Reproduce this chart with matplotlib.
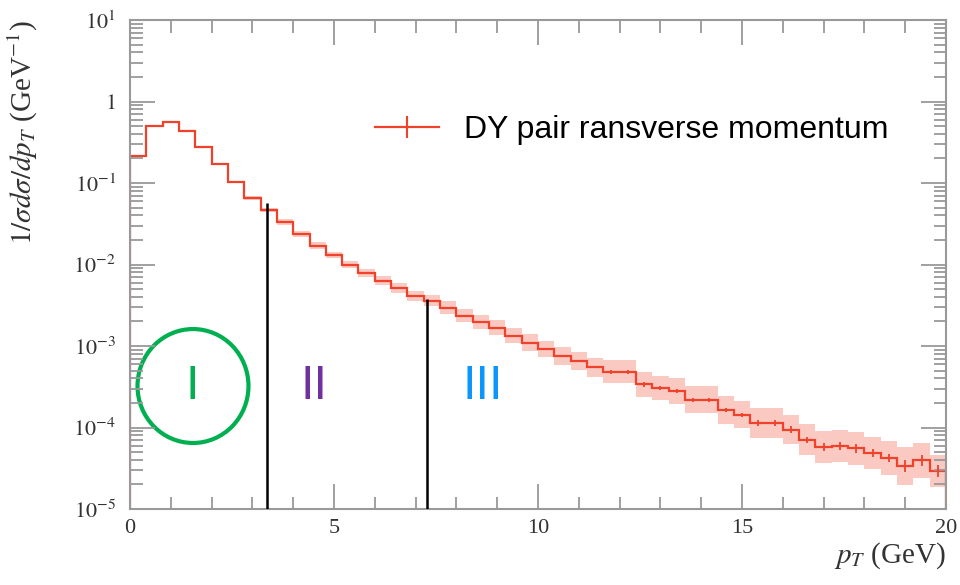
import numpy as np
import matplotlib
matplotlib.use('Agg')
from matplotlib import pyplot as plt
from matplotlib.patches import Ellipse
from matplotlib.lines import Line2D
from matplotlib.ticker import FixedLocator, FixedFormatter, LogLocator, MultipleLocator, NullFormatter

plt.rcParams['font.family'] = ['Liberation Serif', 'DejaVu Serif']
plt.rcParams['mathtext.fontset'] = 'stix'

# 50 bins of 0.4 GeV from 0 to 20 GeV
pt_edges = np.linspace(0, 20, 51)

# 1/sigma dsigma/dpT per bin
dist = [0.215, 0.507, 0.562, 0.436, 0.280, 0.169, 0.103, 0.0653, 0.0466, 0.0330,
        0.0237, 0.0170, 0.0130, 0.00995, 0.00794, 0.00628, 0.00513, 0.00411, 0.00360, 0.00296,
        0.00236, 0.00196, 0.00168, 0.00134, 0.00110, 0.00092, 0.00076, 0.00065, 0.000547, 0.000485,
        0.000485, 0.000337, 0.000303, 0.000279, 0.000220, 0.000220, 0.000163, 0.000144, 0.000114, 0.000114,
        9.45e-5, 7.03e-5, 5.77e-5, 5.90e-5, 5.53e-5, 4.89e-5, 4.26e-5, 3.36e-5, 3.94e-5, 2.91e-5]

# half width of the shaded band, in decades
band_dex = [0.01, 0.01, 0.01, 0.01, 0.01, 0.012, 0.015, 0.02, 0.03, 0.035,
            0.035, 0.04, 0.04, 0.045, 0.05, 0.055, 0.06, 0.065, 0.07, 0.075,
            0.08, 0.085, 0.09, 0.095, 0.10, 0.10, 0.11, 0.11, 0.12, 0.14,
            0.14, 0.15, 0.15, 0.16, 0.17, 0.17, 0.17, 0.17, 0.18, 0.18,
            0.18, 0.19, 0.20, 0.20, 0.20, 0.20, 0.21, 0.23, 0.22, 0.20]

# half length of the stat error bars, in decades
stat_dex = [0.005] * 20 + [0.01] * 9 + [0.025] * 9 + [0.04] * 4 + [0.05] * 5 + [0.07] * 3

# region boundaries and labels
cut_pt = [3.35, 7.27]
cut_top = [0.057, 0.0038]
region_names = ['I', 'II', 'III']
region_x = [1.52, 4.5, 8.65]
region_colors = ['#00B050', '#7030A0', '#0A96FA']

red = '#F0412A'
y = np.array(dist)
lo = y / 10 ** np.array(band_dex)
hi = y * 10 ** np.array(band_dex)
centers = 0.5 * (pt_edges[:-1] + pt_edges[1:])

fig = plt.figure(figsize=(9.6, 5.85), dpi=100)
ax = fig.add_axes([130 / 960, 76 / 585, 816 / 960, 489 / 585])

ax.stairs(hi, pt_edges, baseline=lo, fill=True, color='#F9B7AE', alpha=0.75, lw=0)
ax.stairs(y, pt_edges, color=red, lw=1.6)
ax.errorbar(centers, y, yerr=[y - y / 10 ** np.array(stat_dex), y * 10 ** np.array(stat_dex) - y],
            fmt='none', ecolor=red, elinewidth=1.3)

ax.vlines(cut_pt, 1e-5, cut_top, color='black', lw=1.8, zorder=5)

for name, xx, c in zip(region_names, region_x, region_colors):
    ax.text(xx, 3.2e-4, name, color=c, fontsize=35, family=['Liberation Sans', 'DejaVu Sans'],
            ha='center', va='center')
ax.add_patch(Ellipse((0.0772, 0.2515), 0.136, 0.233, transform=ax.transAxes,
                     fill=False, ec='#00B050', lw=3))

ax.set_yscale('log')
ax.set_xlim(0, 20)
ax.set_ylim(1e-5, 10)

dec = [1e-5, 1e-4, 1e-3, 1e-2, 1e-1, 1, 10]
dec_labels = ['$10^{-5}$', '$10^{-4}$', '$10^{-3}$', '$10^{-2}$', '$10^{-1}$', '$1$', '$10^{1}$']
ax.yaxis.set_major_locator(FixedLocator(dec))
ax.yaxis.set_major_formatter(FixedFormatter(dec_labels))
ax.yaxis.set_minor_locator(LogLocator(base=10, subs=np.arange(2, 10), numticks=20))
ax.yaxis.set_minor_formatter(NullFormatter())
ax.xaxis.set_major_locator(MultipleLocator(5))
ax.xaxis.set_minor_locator(MultipleLocator(1))

grey = '#999999'
for s in ax.spines.values():
    s.set_color(grey)
    s.set_linewidth(1.5)
ax.tick_params(which='both', direction='in', top=True, right=True, color=grey, width=1.3,
               labelsize=16, labelcolor='#333333')
ax.tick_params(which='major', length=18)
ax.tick_params(which='minor', length=9)
ax.tick_params(axis='x', pad=7)
ax.tick_params(axis='y', pad=10)

ax.set_xlabel(r'$p_T$ (GeV)', fontsize=21, loc='right', color='#333333', labelpad=2)
ax.set_ylabel(r'$1/\sigma d\sigma/dp_T$ (GeV$^{-1}$)', fontsize=21, loc='top', color='#333333')
ax.yaxis.set_label_coords(-0.11, 1.0)

handle = Line2D([], [], color=red, lw=1.6, marker='|', markersize=16, markeredgewidth=1.5)
ax.legend([handle], ['DY pair ransverse momentum'], loc='center left', bbox_to_anchor=(0.300, 0.775),
          frameon=False, borderpad=0, borderaxespad=0, handlelength=2.0, handletextpad=0.8,
          prop={'family': ['Liberation Sans', 'DejaVu Sans'], 'size': 23})

plt.savefig('out.png', dpi=100)
